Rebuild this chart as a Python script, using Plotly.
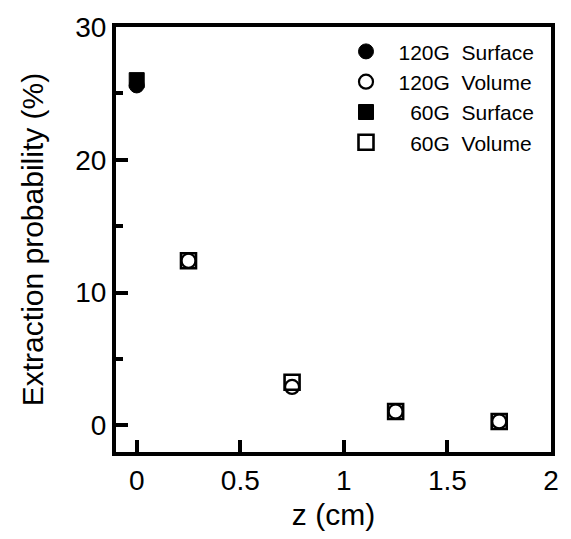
import plotly.graph_objects as go

# Extraction probability vs. distance z from the surface
z_surface = [0.0]
p120_surface = [25.6]
p60_surface = [26.0]

z_volume = [0.25, 0.75, 1.25, 1.75]
p120_volume = [12.4, 2.9, 1.05, 0.3]
p60_volume = [12.4, 3.25, 1.05, 0.3]

x_ticks = [0, 0.5, 1, 1.5, 2]
x_tick_text = ["0", "0.5", "1", "1.5", "2"]
y_ticks = [0, 10, 20, 30]

FONT = "Liberation Sans, Arial, sans-serif"
NB = "\u00a0"

fig = go.Figure()
fig.add_trace(go.Scatter(
    x=z_surface, y=p120_surface, mode="markers", name=f"120G{NB}{NB}Surface",
    marker=dict(symbol="circle", size=15, color="black", line=dict(color="black", width=1)),
))
fig.add_trace(go.Scatter(
    x=z_volume, y=p120_volume, mode="markers", name=f"120G{NB}{NB}Volume",
    marker=dict(symbol="circle-open", size=14, color="black", line=dict(color="black", width=2.2)),
))
fig.add_trace(go.Scatter(
    x=z_surface, y=p60_surface, mode="markers", name=f"{NB}{NB}60G{NB}{NB}Surface",
    marker=dict(symbol="square", size=15, color="black", line=dict(color="black", width=1)),
))
fig.add_trace(go.Scatter(
    x=z_volume, y=p60_volume, mode="markers", name=f"{NB}{NB}60G{NB}{NB}Volume",
    marker=dict(symbol="square-open", size=15, color="black", line=dict(color="black", width=2.6)),
))

axis_common = dict(
    showline=True, linecolor="black", linewidth=4, mirror=True,
    ticks="inside", ticklen=12, tickwidth=4, tickcolor="black",
    showgrid=False, zeroline=False,
    tickfont=dict(family=FONT, size=28, color="black"),
    title_font=dict(family=FONT, size=30, color="black"),
)

fig.update_xaxes(
    range=[-0.1, 2.0], tickvals=x_ticks, ticktext=x_tick_text,
    title_text="z (cm)", title_standoff=10, **axis_common,
)
fig.update_yaxes(
    range=[-2, 30], tickvals=y_ticks,
    minor=dict(ticks="inside", ticklen=7, tickwidth=4, tickcolor="black", dtick=5, showgrid=False),
    title_text="Extraction probability (%)", title_standoff=24, **axis_common,
)

fig.update_layout(
    width=571, height=539,
    margin=dict(l=116, r=18, t=17, b=80, pad=0),
    paper_bgcolor="white", plot_bgcolor="white",
    font=dict(family=FONT, color="black"),
    showlegend=True,
    legend=dict(
        x=0.5, y=0.99, xanchor="left", yanchor="top",
        bgcolor="rgba(0,0,0,0)", borderwidth=0,
        font=dict(family=FONT, size=21, color="black"),
        itemwidth=55, tracegroupgap=0,
    ),
)

fig.write_html("out.html")
